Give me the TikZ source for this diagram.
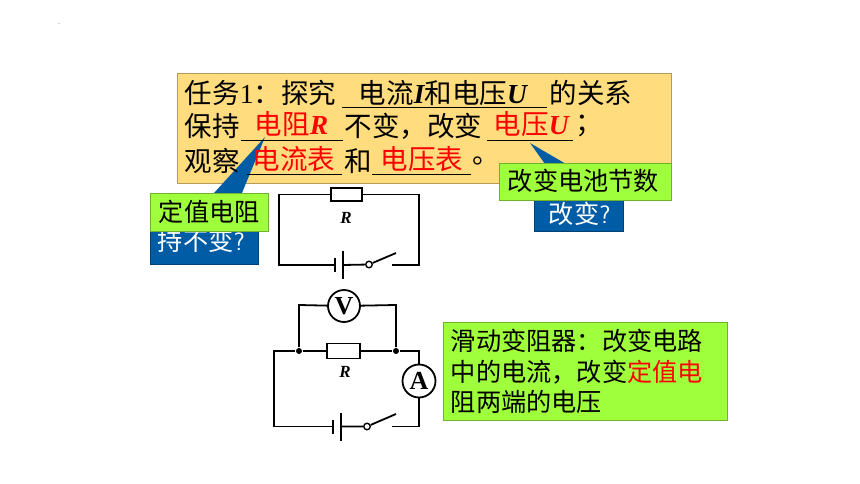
\documentclass[tikz,border=0pt]{standalone}
\usepackage{fontspec}
\setmainfont{Liberation Serif}
\newfontfamily\cjk{Noto Sans CJK SC}
\usetikzlibrary{calc}
\definecolor{taskorange}{RGB}{255,220,125}
\definecolor{tipgreen}{RGB}{160,255,60}
\definecolor{askblue}{RGB}{0,93,165}
\newcommand{\bigvar}[1]{{\rmfamily\bfseries\itshape #1}}
\tikzset{
  circuit/.style={
	x=1pt, y=-1pt, % pixel grid of the slide
	line width=1.8pt,
  },
  box/.style={draw=#1!70!black, line width=0.8pt, fill=#1, minimum width=0, inner sep=0pt, anchor=north west},
  say/.style={inner sep=0pt, anchor=west, font=\fontsize{27.5}{30}\selectfont\cjk},
  small/.style={inner sep=0pt, anchor=west, font=\fontsize{25.2}{28}\selectfont\cjk},
  gap/.style={line width=1pt},
  resistor/.style={draw, fill=white, minimum width=31pt, minimum height=13pt, inner sep=0pt},
  meter/.style={draw, circle, fill=white, minimum size=32pt, inner sep=0pt, font=\bfseries\fontsize{26}{26}\selectfont},
  joint/.style={circle, fill, minimum size=6pt, inner sep=0pt},
  pivot/.style={draw, circle, fill=white, minimum size=6.5pt, inner sep=0pt, line width=1.4pt},
  mark r/.style={font=\bfseries\itshape\fontsize{17}{17}\selectfont, inner sep=0pt},
}
\begin{document}
\begin{tikzpicture}[circuit]
\useasboundingbox (0,0) rectangle (860,484);
\node[inner sep=0pt, font=\fontsize{6}{6}\selectfont] (speck) at (59,24) {.};

% task box
\node[box=taskorange, minimum width=494pt, minimum height=110pt] (task) at (177,73) {};
\fill[askblue] (265,137) -- (214,193) -- (242,193) -- cycle;
\fill[askblue] (530,143) -- (545,164) -- (566,164) -- cycle;

\node[say] (a1) at (184,93) {任务\rmfamily 1\cjk：探究};
\node[say] (a2) at (358,93) {电流\bigvar{I}和电压\bigvar{U}};
\node[say] (a3) at (549,93) {的关系};
\node[say] (b1) at (184,126) {保持};
\node[say, text=red] (b2) at (254,124) {电阻\bigvar{R}};
\node[say] (b3) at (344,126) {不变，改变};
\node[say, text=red] (b4) at (493,124) {电压\bigvar{U}};
\node[say] (b5) at (575,126) {；};
\node[say] (c1) at (184,161) {观察};
\node[say, text=red] (c2) at (252,159) {电流表};
\node[say] (c3) at (344,161) {和};
\node[say, text=red] (c4) at (380,159) {电压表};
\node[say] (c5) at (472,161) {。};

% blanks
\foreach \name/\xa/\xb/\yy in {u1/342/547/108, u2/241/343/141, u3/487/573/141, u4/247/342/175, u5/372/471/175}{
  \coordinate (\name a) at (\xa,\yy);
  \coordinate (\name b) at (\xb,\yy);
  \draw[gap] (\name a) -- (\name b);
}

% questions behind the green labels
\node[box=askblue, minimum width=108pt, minimum height=40pt] (askl) at (150,224) {};
\node[small, text=white] (askltext) at (157,241) {持不变\textsf{?}};
\node[box=askblue, minimum width=89pt, minimum height=36pt] (askr) at (534,195) {};
\node[small, text=white] (askrtext) at (548,214) {改变\textsf{?}};
\node[box=tipgreen, minimum width=118pt, minimum height=38pt] (tipl) at (150,193) {};
\node[small] (tipltext) at (158,212) {定值电阻};
\node[box=tipgreen, minimum width=172pt, minimum height=37pt] (tipr) at (499,163) {};
\node[small] (tiprtext) at (507,181) {改变电池节数};
\node[box=tipgreen, minimum width=284pt, minimum height=98pt] (tipb) at (443,322) {};
\node[small] (d1) at (450,341) {滑动变阻器：改变电路};
\node[small] (d2) at (450,372) {中的电流，改变\textcolor{red}{定值电}};
\node[small] (d3) at (450,402) {阻两端的电压};

% upper circuit
\node[resistor] (r1) at (346.5,194.5) {};
\node[mark r] (r1lab) at (346,218) {R};
\coordinate (tl1) at (279,194.5);
\coordinate (tr1) at (419,194.5);
\coordinate (bl1) at (279,265);
\coordinate (br1) at (419,265);
\coordinate (lo1) at (335,265);
\coordinate (hi1) at (343,265);
\node[pivot] (sw1) at (369,264.5) {};
\coordinate (arm1) at (396,253);
\coordinate (con1) at (392,265);
\draw (r1) -- (tl1) -- (bl1) -- (lo1);
\draw (r1) -- (tr1) -- (br1) -- (con1);
\draw (hi1) -- (sw1) -- (arm1);
\draw ($(lo1)+(0,-7)$) -- ($(lo1)+(0,7)$);
\draw ($(hi1)+(0,-14)$) -- ($(hi1)+(0,14)$);

% lower circuit
\node[resistor, minimum width=33pt, minimum height=15pt] (r2) at (343.5,351) {};
\node[mark r] (r2lab) at (345,372) {R};
\node[joint] (jl) at (299,351) {};
\node[joint] (jr) at (396,351) {};
\node[meter] (vm) at (344,306) {V};
\node[meter, minimum size=33pt] (am) at (419,381) {A};
\coordinate (tl2) at (274,351);
\coordinate (tr2) at (419,351);
\coordinate (bl2) at (274,426.5);
\coordinate (br2) at (419,426.5);
\coordinate (lo2) at (333,426.5);
\coordinate (hi2) at (341,426.5);
\node[pivot] (sw2) at (367,426.5) {};
\coordinate (arm2) at (396,414);
\coordinate (con2) at (392,426.5);
\coordinate (vl) at (299,305);
\coordinate (vr) at (396,305);
\draw (r2) -- (jl) -- (tl2) -- (bl2) -- (lo2);
\draw (r2) -- (jr) -- (tr2) -- (am);
\draw (am) -- (br2) -- (con2);
\draw (hi2) -- (sw2) -- (arm2);
\draw (jl) -- (vl) -- (vm);
\draw (jr) -- (vr) -- (vm);
\draw ($(lo2)+(0,-7)$) -- ($(lo2)+(0,7)$);
\draw ($(hi2)+(0,-14)$) -- ($(hi2)+(0,14)$);
\end{tikzpicture}
\end{document}
